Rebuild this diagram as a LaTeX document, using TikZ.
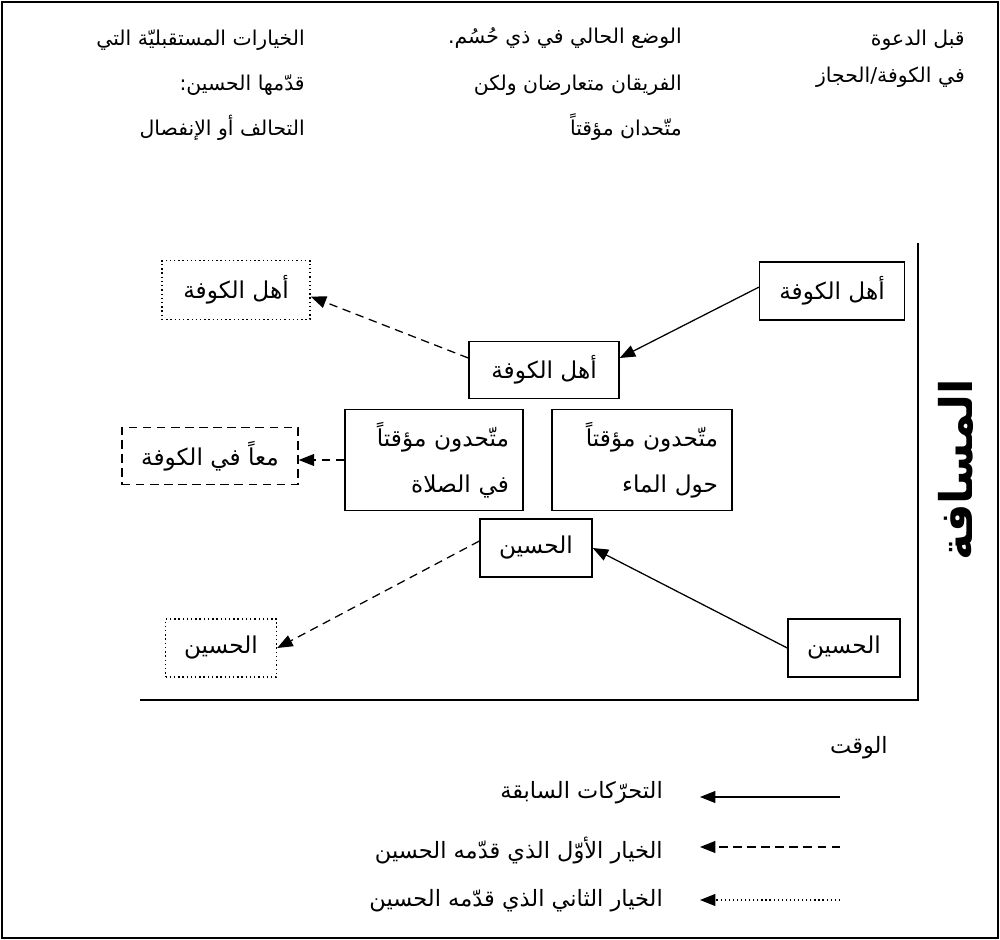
\documentclass[tikz,border=0pt]{standalone}
\usepackage{fontspec}
\newfontfamily\arabicfont[Script=Arabic]{DejaVu Sans}
\TeXXeTstate=1
\usetikzlibrary{arrows.meta}
\newcommand{\ar}[1]{\beginR #1\endR}
\tikzset{%
  lbl/.style={font=\arabicfont\fontsize{14.5}{17}\selectfont,inner sep=0pt},
  leglbl/.style={lbl,font=\arabicfont\fontsize{16}{19}\selectfont},
  stage/.style={lbl,font=\arabicfont\fontsize{16.5}{19}\selectfont,draw,line width=1pt,align=center},
  solidbox/.style={stage},
  firstbox/.style={stage,dash pattern=on 6pt off 4pt},
  secondbox/.style={stage,dotted},
  twoline/.style={solidbox,align=right,inner xsep=3.5mm,text width=37.5mm,minimum height=25.25mm},
  move/.style={line width=0.9pt,-{Triangle[length=11pt,width=8.5pt]}},
  firstopt/.style={move,dash pattern=on 6pt off 4pt},
  secondopt/.style={move,dotted},
}
\begin{document}
\begin{tikzpicture}[x=0.25mm,y=-0.25mm]%
\useasboundingbox (0,0) rectangle (1000,940);%
\draw[line width=0.8pt] (2,2) rectangle (998,938);%
% headings
\node[lbl,anchor=east] (h1a) at (965,40) {\ar{قبل الدعوة}};%
\node[lbl,anchor=east] (h1b) at (965,77) {\ar{في الكوفة/الحجاز}};%
\node[lbl,anchor=east] (h2a) at (682,38) {\ar{الوضع الحالي في ذي حُسُم.}};%
\node[lbl,anchor=east] (h2b) at (682,85) {\ar{الفريقان متعارضان ولكن}};%
\node[lbl,anchor=east] (h2c) at (682,127) {\ar{متّحدان مؤقتاً}};%
\node[lbl,anchor=east] (h3a) at (305,40) {\ar{الخيارات المستقبليّة التي}};%
\node[lbl,anchor=east] (h3b) at (305,85) {\ar{قدّمها الحسين:}};%
\node[lbl,anchor=east] (h3c) at (305,128) {\ar{التحالف أو الإنفصال}};%
% axes
\coordinate (top) at (918,243);%
\coordinate (corner) at (918,700);%
\coordinate (left) at (140,700);%
\draw[line width=1.4pt] (top) -- (corner) -- (left);%
\node[font=\arabicfont\bfseries\fontsize{32}{36}\selectfont,rotate=90] (dist) at (956,470) {\ar{المسافة}};%
% boxes
\node[solidbox,minimum width=36.25mm,minimum height=14.5mm] (kufaA) at (832,291) {\ar{أهل الكوفة}};%
\node[solidbox,minimum width=37.5mm,minimum height=14.25mm] (kufaB) at (544,370) {\ar{أهل الكوفة}};%
\node[secondbox,minimum width=37mm,minimum height=14.75mm] (kufaC) at (236,290) {\ar{أهل الكوفة}};%
\node[twoline] (prayer) at (434,460) {\ar{متّحدون مؤقتاً}\\[14pt]\ar{في الصلاة}};%
\node[twoline,text width=38mm] (water) at (642,460) {\ar{متّحدون مؤقتاً}\\[14pt]\ar{حول الماء}};%
\node[firstbox,minimum width=44mm,minimum height=14.25mm] (together) at (210,456) {\ar{معاً في الكوفة}};%
\node[solidbox,minimum width=28mm,minimum height=14.5mm] (husG) at (536,548) {\ar{الحسين}};%
\node[solidbox,minimum width=28mm,minimum height=14.5mm] (husH) at (844,648) {\ar{الحسين}};%
\node[secondbox,minimum width=27.75mm,minimum height=14.5mm] (husI) at (221,648) {\ar{الحسين}};%
% connectors
\draw[move] (kufaA.177) -- (kufaB.9);%
\draw[firstopt] (kufaB.171) -- (kufaC.-5);%
\draw[firstopt] (prayer.west) -- (prayer.west -| together.east);%
\draw[move] (husH.west) -- (husG.east);%
\draw[firstopt] (husG.173) -- (husI.east);%
% legend
\node[leglbl,anchor=east] (time) at (888,748) {\ar{الوقت}};%
\coordinate (l1a) at (840,797);\coordinate (l1b) at (700,797);%
\coordinate (l2a) at (840,847);\coordinate (l2b) at (700,847);%
\coordinate (l3a) at (840,900);\coordinate (l3b) at (700,900);%
\draw[move] (l1a) -- (l1b);%
\draw[firstopt] (l2a) -- (l2b);%
\draw[secondopt] (l3a) -- (l3b);%
\node[leglbl,anchor=east] (leg1) at (663,793) {\ar{التحرّكات السابقة}};%
\node[leglbl,anchor=east] (leg2) at (663,850) {\ar{الخيار الأوّل الذي قدّمه الحسين}};%
\node[leglbl,anchor=east] (leg3) at (663,901) {\ar{الخيار الثاني الذي قدّمه الحسين}};%
\end{tikzpicture}
\end{document}
